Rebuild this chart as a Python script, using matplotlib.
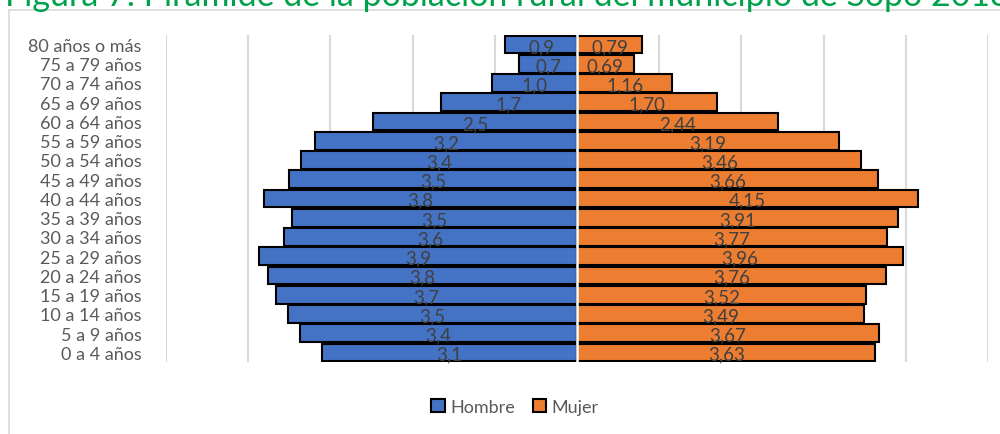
import matplotlib
matplotlib.use("Agg")
import matplotlib.pyplot as plt
from matplotlib.patches import Rectangle, Patch

plt.rcParams['font.family'] = ['Lato', 'DejaVu Sans']

grupos = ['0 a 4 años', '5 a 9 años', '10 a 14 años', '15 a 19 años', '20 a 24 años',
          '25 a 29 años', '30 a 34 años', '35 a 39 años', '40 a 44 años', '45 a 49 años',
          '50 a 54 años', '55 a 59 años', '60 a 64 años', '65 a 69 años', '70 a 74 años',
          '75 a 79 años', '80 años o más']
hombre = [3.10, 3.37, 3.52, 3.66, 3.76, 3.87, 3.56, 3.47, 3.81, 3.50,
          3.36, 3.19, 2.48, 1.66, 1.04, 0.70, 0.87]
mujer = [3.63, 3.67, 3.49, 3.52, 3.76, 3.96, 3.77, 3.91, 4.15, 3.66,
         3.46, 3.19, 2.44, 1.70, 1.16, 0.69, 0.79]

azul = '#4472C4'
naranja = '#ED7D31'
gris = '#595959'

fig = plt.figure(figsize=(10, 4.35), dpi=100)
ax = fig.add_axes([0.166, 0.1655, 0.822, 0.752])

y = list(range(len(grupos)))
ax.barh(y, [-v for v in hombre], height=0.92, color=azul, edgecolor='black', linewidth=1.5, zorder=2)
ax.barh(y, mujer, height=0.92, color=naranja, edgecolor='black', linewidth=1.5, zorder=2)
ax.axvline(0, color='white', lw=1.8, zorder=3)

for i in y:
    ax.text(-hombre[i] / 2, i - 0.1, f'{hombre[i]:.1f}'.replace('.', ','), ha='center', va='center',
            fontsize=13.5, color='#404040', zorder=4)
    ax.text(mujer[i] / 2, i - 0.1, f'{mujer[i]:.2f}'.replace('.', ','), ha='center', va='center',
            fontsize=13.5, color='#404040', zorder=4)

ax.set_xlim(-5, 5)
ax.set_ylim(-0.5, len(grupos) - 0.5)
ax.set_xticks(range(-5, 6))
ax.xaxis.grid(True, color='#d9d9d9', lw=1.5, zorder=0)
ax.tick_params(axis='x', bottom=False, labelbottom=False)
ax.tick_params(axis='y', left=False, pad=14)
ax.set_yticks(y)
ax.set_yticklabels(grupos, fontsize=13, color=gris)
for s in ax.spines.values():
    s.set_visible(False)

fig.patches.append(Rectangle((9 / 1000, -0.05), 1.05, 1 - 11 / 435 + 0.05, transform=fig.transFigure,
                             fill=False, edgecolor='#d9d9d9', lw=1.2))

fig.text(0.005, 1 - 6 / 435, 'Figura 7. Pirámide de la población rural del municipio de Sopó 2018',
         fontsize=24.5, color='#00A14B', va='baseline', ha='left')

handles = [Patch(facecolor=azul, edgecolor='black', lw=1.5, label='Hombre'),
           Patch(facecolor=naranja, edgecolor='black', lw=1.5, label='Mujer')]
fig.legend(handles=handles, loc='center', bbox_to_anchor=(0.515, 1 - 408 / 435), ncol=2, frameon=False,
           fontsize=13, labelcolor=gris, handlelength=0.75, handleheight=0.75, handletextpad=0.3,
           columnspacing=1.0)

fig.savefig('out.png', dpi=100)
